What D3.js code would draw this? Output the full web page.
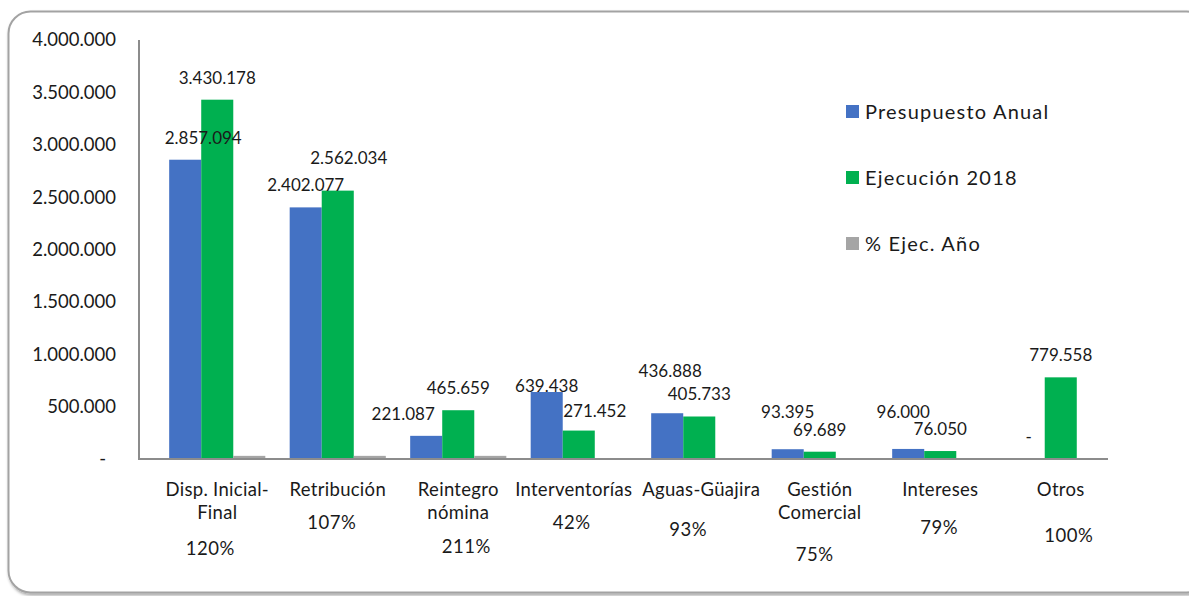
<!DOCTYPE html>
<html>
<head>
<meta charset="utf-8">
<script src="https://cdn.jsdelivr.net/npm/d3@7"></script>
<style>
  body { margin: 0; background: #fff; }
  svg { display: block; font-family: Lato, "Open Sans", sans-serif; }
</style>
</head>
<body>
<svg id="chart" width="1189" height="596"></svg>
<script>
'use strict';

// ---- data ----
const categories = ['Disp. Inicial-\nFinal', 'Retribución', 'Reintegro\nnómina', 'Interventorías',
                    'Aguas-Güajira', 'Gestión\nComercial', 'Intereses', 'Otros'];
const presupuesto = [2857094, 2402077, 221087, 639438, 436888, 93395, 96000, 0];
const ejecucion   = [3430178, 2562034, 465659, 271452, 405733, 69689, 76050, 779558];
const pctEjec     = [120, 107, 211, 42, 93, 75, 79, 100];
// the grey "% Ejec. Año" bars are only a sliver tall in the picture
const pctBars     = [30000, 30000, 30000, 0, 0, 0, 0, 0];
const seriesNames = ['Presupuesto Anual', 'Ejecución 2018', '% Ejec. Año'];
const yTicks      = [0, 500000, 1000000, 1500000, 2000000, 2500000, 3000000, 3500000, 4000000];

// ---- layout ----
const colors = ['#4472C4', '#00B050', '#A5A5A5'];
const plot = { left: 139, right: 1108, top: 40, bottom: 459 };

// hand-moved data labels in the original (px offsets from the default spot)
const blueNudge  = [[18, 0], [0, 0], [-23, 0], [0, 16], [3, -20], [0, -15], [-5, -15], [0, 0]];
const greenNudge = [[0, 0], [11, -11], [0, 0], [16, 2], [0, 0], [0, 0], [0, 0], [0, 0]];
const pctNudge   = [[-7, 90], [-6, 64], [8, 88], [-7, 64], [-11, 71], [-5, 96], [-1, 69], [8, 77]];
const catNudge   = [0, 0, 0, -5, 2, 0, 0, 0];

const loc = d3.formatLocale({ decimal: ',', thousands: '.', grouping: [3], currency: ['$', ''] });
const fmt = v => v === 0 ? '-' : loc.format(',')(v);

const svg = d3.select('#chart');

// frame
const defs = svg.append('defs');
const shadow = defs.append('filter').attr('id', 'shadow')
    .attr('x', '-5%').attr('y', '-5%').attr('width', '110%').attr('height', '110%');
shadow.append('feDropShadow')
    .attr('dx', 1).attr('dy', 2).attr('stdDeviation', 1.5)
    .attr('flood-color', '#000').attr('flood-opacity', 0.35);

svg.append('rect')
    .attr('x', 8.5).attr('y', 11.5)
    .attr('width', 1200).attr('height', 581)
    .attr('rx', 22).attr('ry', 22)
    .attr('fill', '#fff')
    .attr('stroke', '#a3a3a3')
    .attr('stroke-width', 2)
    .attr('filter', 'url(#shadow)');

// scales
const x0 = d3.scaleBand()
    .domain(d3.range(categories.length))
    .range([157, 1121])
    .padding(0);

const x1 = d3.scaleBand()
    .domain(d3.range(3))
    .range([0, x0.bandwidth()])
    .paddingInner(0)
    .paddingOuter(0.38);

const y = d3.scaleLinear()
    .domain([0, 4000000])
    .range([plot.bottom, plot.top]);

// y axis labels
const yAxis = d3.axisLeft(y)
    .tickValues(yTicks)
    .tickSize(0)
    .tickPadding(0)
    .tickFormat(fmt);

const yg = svg.append('g')
    .attr('transform', `translate(116,0)`)
    .call(yAxis);
yg.select('.domain').remove();
yg.selectAll('text')
    .attr('font-size', 18.5)
    .attr('font-family', 'Lato, "Open Sans", sans-serif')
    .attr('fill', '#1a1a1a')
    .attr('dx', d => d === 0 ? -10 : 0);

// bars
const rows = categories.map((c, i) => ({ i, vals: [presupuesto[i], ejecucion[i], pctBars[i]] }));

const groups = svg.append('g').selectAll('g')
    .data(rows)
    .join('g')
    .attr('transform', d => `translate(${x0(d.i)},0)`);

groups.selectAll('rect')
    .data(d => d.vals.map((v, s) => ({ s, v })))
    .join('rect')
    .attr('x', d => x1(d.s))
    .attr('y', d => y(d.v))
    .attr('width', x1.bandwidth())
    .attr('height', d => y(0) - y(d.v))
    .attr('fill', d => colors[d.s]);

// axis lines
svg.append('line')
    .attr('x1', plot.left).attr('x2', plot.left)
    .attr('y1', plot.top).attr('y2', plot.bottom)
    .attr('stroke', '#8c8c8c').attr('stroke-width', 2);
svg.append('line')
    .attr('x1', plot.left - 1).attr('x2', plot.right)
    .attr('y1', plot.bottom).attr('y2', plot.bottom)
    .attr('stroke', '#8c8c8c').attr('stroke-width', 2);

// value labels
function valueLabels(values, s, nudge) {
    svg.append('g').selectAll('text')
        .data(values)
        .join('text')
        .attr('x', (v, i) => x0(i) + x1(s) + x1.bandwidth() / 2 + nudge[i][0])
        .attr('y', (v, i) => y(v) - 22 + nudge[i][1])
        .attr('dy', '0.35em')
        .attr('text-anchor', 'middle')
        .attr('font-size', 17)
        .attr('fill', '#1a1a1a')
        .text(v => fmt(v));
}
valueLabels(presupuesto, 0, blueNudge);
valueLabels(ejecucion, 1, greenNudge);

// category labels
const catG = svg.append('g').selectAll('text')
    .data(categories)
    .join('text')
    .attr('x', (c, i) => x0(i) + x0.bandwidth() / 2 + catNudge[i])
    .attr('y', 490)
    .attr('text-anchor', 'middle')
    .attr('font-size', 18.5)
    .attr('letter-spacing', 0.3)
    .attr('fill', '#1a1a1a');
catG.selectAll('tspan')
    .data(c => c.split('\n'))
    .join('tspan')
    .attr('x', function () { return d3.select(this.parentNode).attr('x'); })
    .attr('dy', (t, k) => k === 0 ? '0.35em' : 23)
    .text(t => t);

// percent labels under the categories
svg.append('g').selectAll('text')
    .data(pctEjec)
    .join('text')
    .attr('x', (p, i) => x0(i) + x0.bandwidth() / 2 + pctNudge[i][0])
    .attr('y', (p, i) => plot.bottom + pctNudge[i][1])
    .attr('dy', '0.35em')
    .attr('text-anchor', 'middle')
    .attr('font-size', 18.5)
    .attr('letter-spacing', 0.5)
    .attr('fill', '#1a1a1a')
    .text(p => p + '%');

// legend
const legend = svg.append('g').selectAll('g')
    .data(seriesNames)
    .join('g')
    .attr('transform', (n, k) => `translate(846,${112 + k * 66})`);
legend.append('rect')
    .attr('x', 0).attr('y', -7)
    .attr('width', 13).attr('height', 13)
    .attr('fill', (n, k) => colors[k]);
legend.append('text')
    .attr('x', 19).attr('y', 0)
    .attr('dy', '0.35em')
    .attr('font-size', 20)
    .attr('letter-spacing', 1.2)
    .attr('fill', '#1a1a1a')
    .text(n => n);
</script>
</body>
</html>
